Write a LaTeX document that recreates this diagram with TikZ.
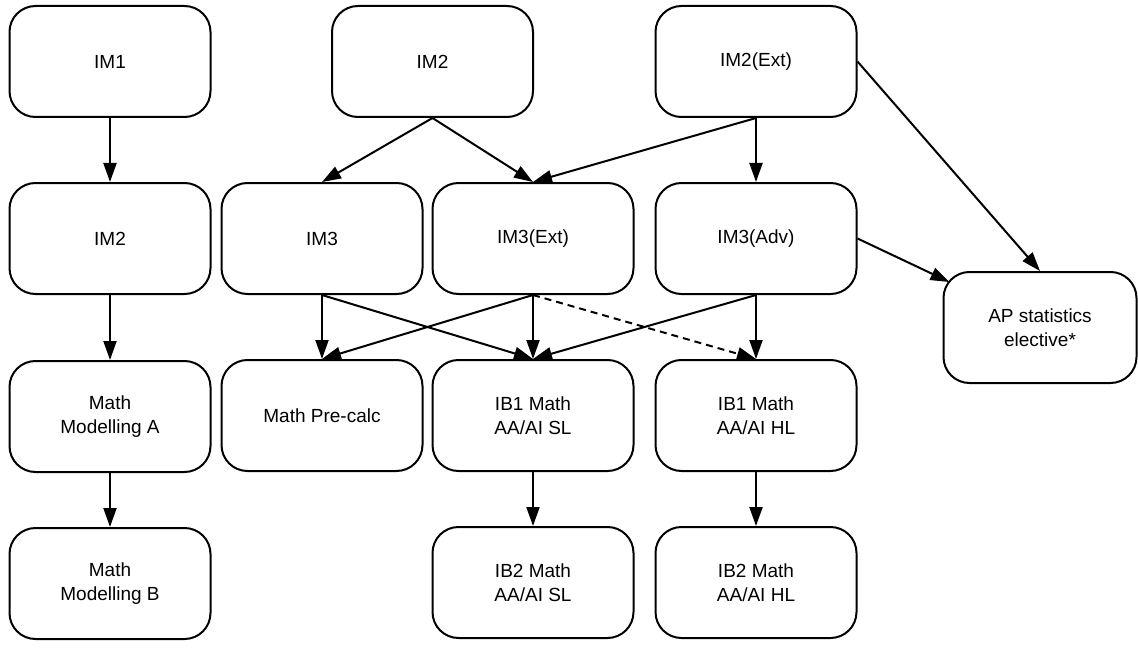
\documentclass[tikz,border=0pt]{standalone}
\usepackage{fontspec}
\setmainfont{Liberation Sans}
\usepackage{tikz}
\usetikzlibrary{arrows.meta}
\usetikzlibrary{positioning}
\tikzstyle{course} = [draw, line width=2pt, rectangle, rounded corners=26pt,
    minimum width=201pt, minimum height=111pt, align=center,
    font=\fontsize{19}{23.5}\selectfont]
\tikzstyle{link} = [line width=2pt, ->]
\begin{document}
\begin{tikzpicture}[x=1pt, y=-1pt, >={Triangle[length=19pt,width=13pt]}]
    \useasboundingbox (0,0) rectangle (1138,650);

    % left column
    \node [course] (im1) at (110,61.5) {IM1};
    \node [course, below=64pt of im1] (im2) {IM2};
    \node [course, below=65pt of im2] (mma) {Math\\Modelling A};
    \node [course, below=54pt of mma] (mmb) {Math\\Modelling B};

    % year 3 row
    \node [course, right=9pt of im2] (im3) {IM3};
    \node [course, right=8pt of im3] (im3ext) {IM3(Ext)};
    \node [course, right=20pt of im3ext] (im3adv) {IM3(Adv)};

    % top row
    \node [course] (im2b) at (432.5,61.5) {IM2};
    \node [course, above=64pt of im3adv] (im2ext) {IM2(Ext)};

    % year 4 and 5
    \node [course, below=64pt of im3] (precalc) {Math Pre-calc};
    \node [course, below=64pt of im3ext] (ib1sl) {IB1 Math\\AA/AI SL};
    \node [course, below=64pt of im3adv] (ib1hl) {IB1 Math\\AA/AI HL};
    \node [course, below=54pt of ib1sl] (ib2sl) {IB2 Math\\AA/AI SL};
    \node [course, below=54pt of ib1hl] (ib2hl) {IB2 Math\\AA/AI HL};

    \node [course, minimum width=193pt] (apstat) at (1040,327.5) {AP statistics\\elective*};
    \coordinate (apcorner) at ([xshift=7pt,yshift=-11pt]apstat.north west);

    % connections
    \draw [link] (im1) -- (im2);
    \draw [link] (im2) -- (mma);
    \draw [link] (mma) -- (mmb);

    \draw [link] (im2b.south) -- (im3.north);
    \draw [link] (im2b.south) -- (im3ext.north);
    \draw [link] (im2ext.south) -- (im3ext.north);
    \draw [link] (im2ext.south) -- (im3adv.north);
    \draw [link] (im2ext.east) -- (apstat.north);
    \draw [link] (im3adv.east) -- (apcorner);

    \draw [link] (im3.south) -- (precalc.north);
    \draw [link] (im3.south) -- (ib1sl.north);
    \draw [link] (im3ext.south) -- (precalc.north);
    \draw [link] (im3ext.south) -- (ib1sl.north);
    \draw [link, dash pattern=on 7pt off 5pt] (im3ext.south) -- (ib1hl.north);
    \draw [link] (im3adv.south) -- (ib1sl.north);
    \draw [link] (im3adv.south) -- (ib1hl.north);

    \draw [link] (ib1sl) -- (ib2sl);
    \draw [link] (ib1hl) -- (ib2hl);
\end{tikzpicture}
\end{document}
